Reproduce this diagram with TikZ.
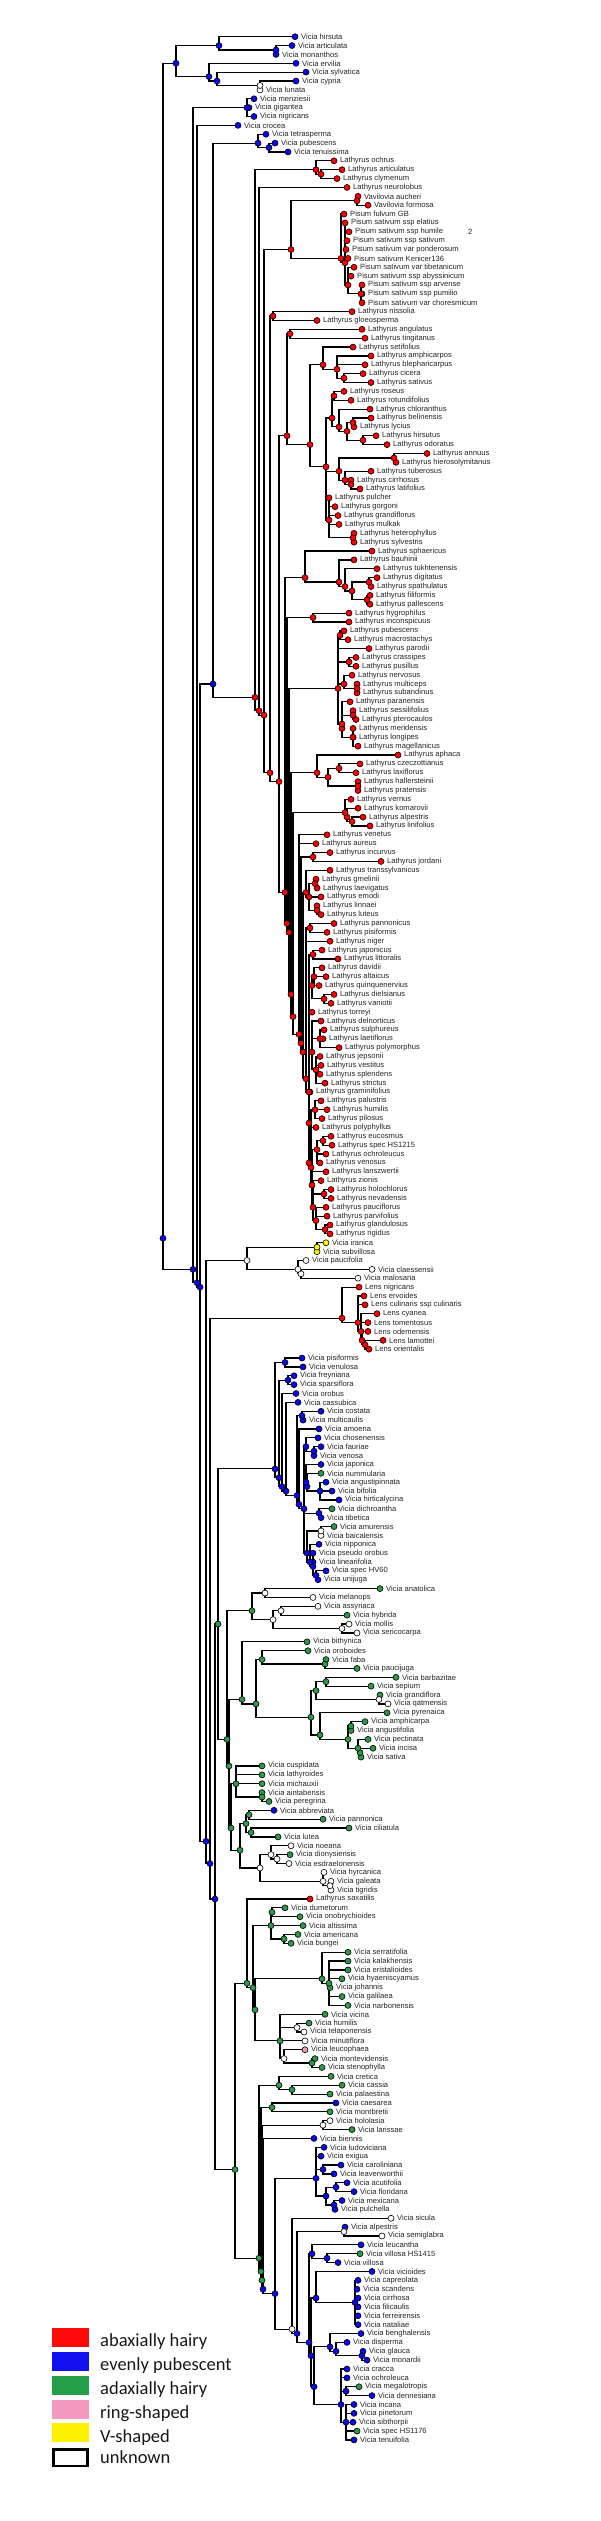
\documentclass[tikz,border=0pt]{standalone}
\usepackage{fontspec}
\setmainfont{Liberation Sans}
\newfontfamily\legfont{Carlito}
\pgfdeclarelayer{bg}
\pgfsetlayers{bg,main}
\definecolor{cR}{HTML}{FF0000}
\definecolor{cB}{HTML}{0A0AF0}
\definecolor{cG}{HTML}{2A9A48}
\definecolor{cW}{HTML}{FFFFFF}
\definecolor{cY}{HTML}{FFFF00}
\definecolor{cP}{HTML}{F49AC1}
\definecolor{lR}{HTML}{FF0A0A}
\definecolor{lB}{HTML}{1010F0}
\definecolor{lG}{HTML}{26A048}
\definecolor{lP}{HTML}{F49AC1}
\definecolor{lY}{HTML}{FFF200}
\tikzset{
  dot/.style={circle,draw=black,line width=0.6pt,minimum size=6pt,inner sep=0pt},
  lab/.style={anchor=west,inner sep=0pt,font=\fontsize{7.6}{8}\selectfont,text=black!85},
  edge/.style={line width=1.2pt,black},
  legbox/.style={minimum width=36.7pt,minimum height=19pt,inner sep=0pt,draw=none},
  legtxt/.style={anchor=base west,inner sep=0pt,font=\legfont\fontsize{18.5}{20}\selectfont,text=black!90}
}
\newcommand\tp[5]{%
  \expandafter\xdef\csname S-#1\endcsname{#2}%
  \expandafter\xdef\csname C-#1\endcsname{1}%
  \edef\yy{\fpeval{-(36.7+(#2-1)*8.868)}}%
  \node[dot,fill=#4] (#1) at (#3,\yy) {};%
  \node[lab] (#1-l) at ([xshift=2.7pt]#1.east) {#5};%
}
\newcommand\nd[4]{%
  \gdef\accS{0}\gdef\accC{0}%
  \foreach \kid in {#4}{%
    \xdef\accS{\fpeval{\accS+\csname S-\kid\endcsname}}%
    \xdef\accC{\fpeval{\accC+\csname C-\kid\endcsname}}%
  }%
  \expandafter\xdef\csname S-#1\endcsname{\accS}%
  \expandafter\xdef\csname C-#1\endcsname{\accC}%
  \edef\yy{\fpeval{-(36.7+(\accS/\accC-1)*8.868)}}%
  \node[dot,fill=#3] (#1) at (#2,\yy) {};%
  \begin{pgfonlayer}{bg}%
  \foreach \kid in {#4}{\draw[edge] (#1.center) |- (\kid.center);}%
  \end{pgfonlayer}%
}
\begin{document}
\begin{tikzpicture}[x=1pt,y=1pt]
\begin{pgfonlayer}{bg}
\fill[white] (0,0) rectangle (600,-2521);
\end{pgfonlayer}
\useasboundingbox (0,0) rectangle (600,-2521);
% ---------------- tips
\tp{t1}{1}{295}{cB}{Vicia hirsuta}
\tp{t2}{2}{292}{cB}{Vicia articulata}
\tp{t3}{3}{276}{cB}{Vicia monanthos}
\tp{t4}{4}{296}{cB}{Vicia ervilia}
\tp{t5}{5}{306}{cB}{Vicia sylvatica}
\tp{t6}{6}{296}{cB}{Vicia cypria}
\tp{t7}{7}{260}{cW}{Vicia lunata}
\tp{t8}{8}{254}{cB}{Vicia menziesii}
\tp{t9}{9}{249}{cB}{Vicia gigantea}
\tp{t10}{10}{254}{cB}{Vicia nigricans}
\tp{t11}{11}{238}{cB}{Vicia crocea}
\tp{t12}{12}{266}{cB}{Vicia tetrasperma}
\tp{t13}{13}{275}{cB}{Vicia pubescens}
\tp{t14}{14}{288}{cB}{Vicia tenuissima}
\tp{t15}{15}{334}{cR}{Lathyrus ochrus}
\tp{t16}{16}{342}{cR}{Lathyrus articulatus}
\tp{t17}{17}{337}{cR}{Lathyrus clymenum}
\tp{t18}{18}{347}{cR}{Lathyrus neurolobus}
\tp{t19}{19}{358}{cR}{Vavilovia aucheri}
\tp{t20}{20}{368}{cR}{Vavilovia formosa}
\tp{t21}{21}{344}{cR}{Pisum fulvum GB}
\tp{t22}{22}{345}{cR}{Pisum sativum ssp elatius}
\tp{t23}{23}{349}{cR}{Pisum sativum ssp humile}
\tp{t24}{24}{347}{cR}{Pisum sativum ssp sativum}
\tp{t25}{25}{346}{cR}{Pisum sativum var ponderosum}
\tp{t26}{26}{348}{cR}{Pisum sativum Kenicer136}
\tp{t27}{27}{354}{cR}{Pisum sativum var tibetanicum}
\tp{t28}{28}{351}{cR}{Pisum sativum ssp abyssinicum}
\tp{t29}{29}{362}{cR}{Pisum sativum ssp arvense}
\tp{t30}{30}{362}{cR}{Pisum sativum ssp pumilio}
\tp{t31}{31}{362}{cR}{Pisum sativum var choresmicum}
\tp{t32}{32}{352}{cR}{Lathyrus nissolia}
\tp{t33}{33}{317}{cR}{Lathyrus gloeosperma}
\tp{t34}{34}{362}{cR}{Lathyrus angulatus}
\tp{t35}{35}{365}{cR}{Lathyrus tingitanus}
\tp{t36}{36}{353}{cR}{Lathyrus setifolius}
\tp{t37}{37}{371}{cR}{Lathyrus amphicarpos}
\tp{t38}{38}{365}{cR}{Lathyrus blepharicarpus}
\tp{t39}{39}{363}{cR}{Lathyrus cicera}
\tp{t40}{40}{371}{cR}{Lathyrus sativus}
\tp{t41}{41}{344}{cR}{Lathyrus roseus}
\tp{t42}{42}{351}{cR}{Lathyrus rotundifolius}
\tp{t43}{43}{370}{cR}{Lathyrus chloranthus}
\tp{t44}{44}{371}{cR}{Lathyrus belinensis}
\tp{t45}{45}{354}{cR}{Lathyrus lycius}
\tp{t46}{46}{376}{cR}{Lathyrus hirsutus}
\tp{t47}{47}{387}{cR}{Lathyrus odoratus}
\tp{t48}{48}{427}{cR}{Lathyrus annuus}
\tp{t49}{49}{396}{cR}{Lathyrus hierosolymitanus}
\tp{t50}{50}{371}{cR}{Lathyrus tuberosus}
\tp{t51}{51}{351}{cR}{Lathyrus cirrhosus}
\tp{t52}{52}{360}{cR}{Lathyrus latifolius}
\tp{t53}{53}{329}{cR}{Lathyrus pulcher}
\tp{t54}{54}{335}{cR}{Lathyrus gorgoni}
\tp{t55}{55}{338}{cR}{Lathyrus grandiflorus}
\tp{t56}{56}{339}{cR}{Lathyrus mulkak}
\tp{t57}{57}{354}{cR}{Lathyrus heterophyllus}
\tp{t58}{58}{354}{cR}{Lathyrus sylvestris}
\tp{t59}{59}{372}{cR}{Lathyrus sphaericus}
\tp{t60}{60}{354}{cR}{Lathyrus bauhinii}
\tp{t61}{61}{377}{cR}{Lathyrus tukhtenensis}
\tp{t62}{62}{377}{cR}{Lathyrus digitatus}
\tp{t63}{63}{371}{cR}{Lathyrus spathulatus}
\tp{t64}{64}{370}{cR}{Lathyrus filiformis}
\tp{t65}{65}{370}{cR}{Lathyrus pallescens}
\tp{t66}{66}{349}{cR}{Lathyrus hygrophilus}
\tp{t67}{67}{349}{cR}{Lathyrus inconspicuus}
\tp{t68}{68}{344}{cR}{Lathyrus pubescens}
\tp{t69}{69}{348}{cR}{Lathyrus macrostachys}
\tp{t70}{70}{369}{cR}{Lathyrus parodii}
\tp{t71}{71}{356}{cR}{Lathyrus crassipes}
\tp{t72}{72}{356}{cR}{Lathyrus pusillus}
\tp{t73}{73}{352}{cR}{Lathyrus nervosus}
\tp{t74}{74}{357}{cR}{Lathyrus multiceps}
\tp{t75}{75}{357}{cR}{Lathyrus subandinus}
\tp{t76}{76}{350}{cR}{Lathyrus paranensis}
\tp{t77}{77}{353}{cR}{Lathyrus sessilifolius}
\tp{t78}{78}{356}{cR}{Lathyrus pterocaulos}
\tp{t79}{79}{353}{cR}{Lathyrus meridensis}
\tp{t80}{80}{353}{cR}{Lathyrus longipes}
\tp{t81}{81}{358}{cR}{Lathyrus magellanicus}
\tp{t82}{82}{398}{cR}{Lathyrus aphaca}
\tp{t83}{83}{360}{cR}{Lathyrus czeczottianus}
\tp{t84}{84}{356}{cR}{Lathyrus laxiflorus}
\tp{t85}{85}{358}{cR}{Lathyrus hallersteinii}
\tp{t86}{86}{358}{cR}{Lathyrus pratensis}
\tp{t87}{87}{351}{cR}{Lathyrus vernus}
\tp{t88}{88}{358}{cR}{Lathyrus komarovii}
\tp{t89}{89}{363}{cR}{Lathyrus alpestris}
\tp{t90}{90}{370}{cR}{Lathyrus linifolius}
\tp{t91}{91}{327}{cR}{Lathyrus venetus}
\tp{t92}{92}{316}{cR}{Lathyrus aureus}
\tp{t93}{93}{330}{cR}{Lathyrus incurvus}
\tp{t94}{94}{381}{cR}{Lathyrus jordani}
\tp{t95}{95}{330}{cR}{Lathyrus transsylvanicus}
\tp{t96}{96}{316}{cR}{Lathyrus gmelinii}
\tp{t97}{97}{317}{cR}{Lathyrus laevigatus}
\tp{t98}{98}{321}{cR}{Lathyrus emodi}
\tp{t99}{99}{317}{cR}{Lathyrus linnaei}
\tp{t100}{100}{321}{cR}{Lathyrus luteus}
\tp{t101}{101}{334}{cR}{Lathyrus pannonicus}
\tp{t102}{102}{327}{cR}{Lathyrus pisiformis}
\tp{t103}{103}{330}{cR}{Lathyrus niger}
\tp{t104}{104}{322}{cR}{Lathyrus japonicus}
\tp{t105}{105}{338}{cR}{Lathyrus littoralis}
\tp{t106}{106}{322}{cR}{Lathyrus davidii}
\tp{t107}{107}{326}{cR}{Lathyrus altaicus}
\tp{t108}{108}{319}{cR}{Lathyrus quinquenervius}
\tp{t109}{109}{334}{cR}{Lathyrus dielsianus}
\tp{t110}{110}{331}{cR}{Lathyrus vaniotii}
\tp{t111}{111}{312}{cR}{Lathyrus torreyi}
\tp{t112}{112}{321}{cR}{Lathyrus delnorticus}
\tp{t113}{113}{324}{cR}{Lathyrus sulphureus}
\tp{t114}{114}{323}{cR}{Lathyrus laetiflorus}
\tp{t115}{115}{339}{cR}{Lathyrus polymorphus}
\tp{t116}{116}{320}{cR}{Lathyrus jepsonii}
\tp{t117}{117}{321}{cR}{Lathyrus vestitus}
\tp{t118}{118}{320}{cR}{Lathyrus splendens}
\tp{t119}{119}{325}{cR}{Lathyrus strictus}
\tp{t120}{120}{310}{cR}{Lathyrus graminifolius}
\tp{t121}{121}{321}{cR}{Lathyrus palustris}
\tp{t122}{122}{327}{cR}{Lathyrus humilis}
\tp{t123}{123}{322}{cR}{Lathyrus pilosus}
\tp{t124}{124}{316}{cR}{Lathyrus polyphyllus}
\tp{t125}{125}{331}{cR}{Lathyrus eucosmus}
\tp{t126}{126}{332}{cR}{Lathyrus spec HS1215}
\tp{t127}{127}{326}{cR}{Lathyrus ochroleucus}
\tp{t128}{128}{320}{cR}{Lathyrus venosus}
\tp{t129}{129}{326}{cR}{Lathyrus lanszwertii}
\tp{t130}{130}{321}{cR}{Lathyrus zionis}
\tp{t131}{131}{331}{cR}{Lathyrus holochlorus}
\tp{t132}{132}{331}{cR}{Lathyrus nevadensis}
\tp{t133}{133}{326}{cR}{Lathyrus pauciflorus}
\tp{t134}{134}{327}{cR}{Lathyrus parvifolius}
\tp{t135}{135}{330}{cR}{Lathyrus glandulosus}
\tp{t136}{136}{330}{cR}{Lathyrus rigidus}
\tp{t137}{137}{326}{cY}{Vicia iranica}
\tp{t138}{138}{317}{cY}{Vicia subvillosa}
\tp{t139}{139}{306}{cW}{Vicia paucifolia}
\tp{t140}{140}{372}{cW}{Vicia claessensii}
\tp{t141}{141}{358}{cW}{Vicia malosana}
\tp{t142}{142}{359}{cR}{Lens nigricans}
\tp{t143}{143}{364}{cR}{Lens ervoides}
\tp{t144}{144}{365}{cR}{Lens culinaris ssp culinaris}
\tp{t145}{145}{377}{cR}{Lens cyanea}
\tp{t146}{146}{368}{cR}{Lens tomentosus}
\tp{t147}{147}{368}{cR}{Lens odemensis}
\tp{t148}{148}{383}{cR}{Lens lamottei}
\tp{t149}{149}{369}{cR}{Lens orientalis}
\tp{t150}{150}{302}{cB}{Vicia pisiformis}
\tp{t151}{151}{303}{cB}{Vicia venulosa}
\tp{t152}{152}{294}{cB}{Vicia freyniana}
\tp{t153}{153}{294}{cB}{Vicia sparsiflora}
\tp{t154}{154}{296}{cB}{Vicia orobus}
\tp{t155}{155}{298}{cB}{Vicia cassubica}
\tp{t156}{156}{321}{cB}{Vicia costata}
\tp{t157}{157}{303}{cB}{Vicia multicaulis}
\tp{t158}{158}{319}{cB}{Vicia amoena}
\tp{t159}{159}{318}{cB}{Vicia chosenensis}
\tp{t160}{160}{321}{cB}{Vicia fauriae}
\tp{t161}{161}{314}{cB}{Vicia venosa}
\tp{t162}{162}{321}{cB}{Vicia japonica}
\tp{t163}{163}{321}{cG}{Vicia nummularia}
\tp{t164}{164}{326}{cB}{Vicia angustipinnata}
\tp{t165}{165}{332}{cB}{Vicia bifolia}
\tp{t166}{166}{339}{cB}{Vicia hirticalycina}
\tp{t167}{167}{332}{cG}{Vicia dichroantha}
\tp{t168}{168}{321}{cB}{Vicia tibetica}
\tp{t169}{169}{334}{cG}{Vicia amurensis}
\tp{t170}{170}{321}{cW}{Vicia baicalensis}
\tp{t171}{171}{319}{cB}{Vicia nipponica}
\tp{t172}{172}{313}{cB}{Vicia pseudo orobus}
\tp{t173}{173}{313}{cB}{Vicia linearifolia}
\tp{t174}{174}{326}{cB}{Vicia spec HV60}
\tp{t175}{175}{318}{cB}{Vicia unijuga}
\tp{t176}{176}{380}{cG}{Vicia anatolica}
\tp{t177}{177}{313}{cW}{Vicia melanops}
\tp{t178}{178}{318}{cW}{Vicia assyriaca}
\tp{t179}{179}{347}{cG}{Vicia hybrida}
\tp{t180}{180}{349}{cW}{Vicia mollis}
\tp{t181}{181}{357}{cW}{Vicia sericocarpa}
\tp{t182}{182}{307}{cG}{Vicia bithynica}
\tp{t183}{183}{308}{cG}{Vicia oroboides}
\tp{t184}{184}{326}{cG}{Vicia faba}
\tp{t185}{185}{357}{cG}{Vicia paucijuga}
\tp{t186}{186}{396}{cG}{Vicia barbazitae}
\tp{t187}{187}{371}{cG}{Vicia sepium}
\tp{t188}{188}{380}{cG}{Vicia grandiflora}
\tp{t189}{189}{388}{cW}{Vicia qatmensis}
\tp{t190}{190}{387}{cG}{Vicia pyrenaica}
\tp{t191}{191}{365}{cG}{Vicia amphicarpa}
\tp{t192}{192}{351}{cG}{Vicia angustifolia}
\tp{t193}{193}{368}{cG}{Vicia pectinata}
\tp{t194}{194}{373}{cG}{Vicia incisa}
\tp{t195}{195}{361}{cG}{Vicia sativa}
\tp{t196}{196}{262}{cG}{Vicia cuspidata}
\tp{t197}{197}{262}{cG}{Vicia lathyroides}
\tp{t198}{198}{262}{cG}{Vicia michauxii}
\tp{t199}{199}{262}{cG}{Vicia aintabensis}
\tp{t200}{200}{269}{cG}{Vicia peregrina}
\tp{t201}{201}{274}{cB}{Vicia abbreviata}
\tp{t202}{202}{323}{cG}{Vicia pannonica}
\tp{t203}{203}{349}{cG}{Vicia ciliatula}
\tp{t204}{204}{278}{cG}{Vicia lutea}
\tp{t205}{205}{291}{cW}{Vicia noeana}
\tp{t206}{206}{290}{cG}{Vicia dionysiensis}
\tp{t207}{207}{289}{cW}{Vicia esdraelonensis}
\tp{t208}{208}{324}{cW}{Vicia hyrcanica}
\tp{t209}{209}{331}{cW}{Vicia galeata}
\tp{t210}{210}{331}{cW}{Vicia tigridis}
\tp{t211}{211}{310}{cR}{Lathyrus saxatilis}
\tp{t212}{212}{285}{cG}{Vicia dumetorum}
\tp{t213}{213}{300}{cG}{Vicia onobrychioides}
\tp{t214}{214}{303}{cG}{Vicia altissima}
\tp{t215}{215}{298}{cG}{Vicia americana}
\tp{t216}{216}{291}{cG}{Vicia bungei}
\tp{t217}{217}{348}{cG}{Vicia serratifolia}
\tp{t218}{218}{348}{cG}{Vicia kalakhensis}
\tp{t219}{219}{348}{cG}{Vicia eristalioides}
\tp{t220}{220}{342}{cG}{Vicia hyaeniscyamus}
\tp{t221}{221}{330}{cG}{Vicia johannis}
\tp{t222}{222}{342}{cG}{Vicia galilaea}
\tp{t223}{223}{348}{cG}{Vicia narbonensis}
\tp{t224}{224}{325}{cG}{Vicia vicina}
\tp{t225}{225}{309}{cG}{Vicia humilis}
\tp{t226}{226}{304}{cW}{Vicia telaponensis}
\tp{t227}{227}{305}{cW}{Vicia minutiflora}
\tp{t228}{228}{305}{cP}{Vicia leucophaea}
\tp{t229}{229}{315}{cG}{Vicia montevidensis}
\tp{t230}{230}{322}{cG}{Vicia stenophylla}
\tp{t231}{231}{331}{cG}{Vicia cretica}
\tp{t232}{232}{342}{cG}{Vicia cassia}
\tp{t233}{233}{330}{cG}{Vicia palaestina}
\tp{t234}{234}{336}{cB}{Vicia caesarea}
\tp{t235}{235}{330}{cG}{Vicia montbretii}
\tp{t236}{236}{330}{cW}{Vicia hololasia}
\tp{t237}{237}{352}{cG}{Vicia larissae}
\tp{t238}{238}{314}{cB}{Vicia biennis}
\tp{t239}{239}{324}{cB}{Vicia ludoviciana}
\tp{t240}{240}{321}{cB}{Vicia exigua}
\tp{t241}{241}{341}{cB}{Vicia caroliniana}
\tp{t242}{242}{334}{cB}{Vicia leavenworthii}
\tp{t243}{243}{347}{cB}{Vicia acutifolia}
\tp{t244}{244}{354}{cB}{Vicia floridana}
\tp{t245}{245}{342}{cB}{Vicia mexicana}
\tp{t246}{246}{335}{cB}{Vicia pulchella}
\tp{t247}{247}{391}{cW}{Vicia sicula}
\tp{t248}{248}{345}{cB}{Vicia alpestris}
\tp{t249}{249}{382}{cW}{Vicia semiglabra}
\tp{t250}{250}{361}{cB}{Vicia leucantha}
\tp{t251}{251}{360}{cG}{Vicia villosa HS1415}
\tp{t252}{252}{338}{cB}{Vicia villosa}
\tp{t253}{253}{372}{cB}{Vicia vicioides}
\tp{t254}{254}{358}{cB}{Vicia capreolata}
\tp{t255}{255}{357}{cB}{Vicia scandens}
\tp{t256}{256}{358}{cB}{Vicia cirrhosa}
\tp{t257}{257}{358}{cB}{Vicia filicaulis}
\tp{t258}{258}{358}{cB}{Vicia ferreirensis}
\tp{t259}{259}{358}{cB}{Vicia nataliae}
\tp{t260}{260}{361}{cB}{Vicia benghalensis}
\tp{t261}{261}{347}{cB}{Vicia disperma}
\tp{t262}{262}{363}{cB}{Vicia glauca}
\tp{t263}{263}{367}{cB}{Vicia monardii}
\tp{t264}{264}{347}{cB}{Vicia cracca}
\tp{t265}{265}{347}{cB}{Vicia ochroleuca}
\tp{t266}{266}{359}{cG}{Vicia megalotropis}
\tp{t267}{267}{372}{cB}{Vicia dennesiana}
\tp{t268}{268}{354}{cB}{Vicia incana}
\tp{t269}{269}{354}{cB}{Vicia pinetorum}
\tp{t270}{270}{353}{cB}{Vicia sibthorpii}
\tp{t271}{271}{357}{cG}{Vicia spec HS1176}
\tp{t272}{272}{354}{cB}{Vicia tenuifolia}
\node[lab] (two) at (468,-232.3) {2};
% ---------------- internal nodes: top Vicia
\nd{A4}{260}{cW}{t6,t7}
\nd{A3}{217}{cB}{t5,A4}
\nd{A2}{209}{cB}{t4,A3}
\nd{A1b}{276}{cB}{t2,t3}
\nd{A1}{219}{cB}{t1,A1b}
\nd{A}{176}{cB}{A1,A2}
\nd{Gig}{247}{cB}{t8,t9,t10}
\nd{T2}{269}{cB}{t13,t14}
\nd{T}{258}{cB}{t12,T2}
% ---------------- Lathyrus / Pisum
\nd{LO2}{321}{cR}{t16,t17}
\nd{LO}{316}{cR}{t15,LO2}
\nd{VV}{357}{cR}{t19,t20}
\nd{PI4}{361}{cR}{t29,t30,t31}
\nd{PI3}{348}{cR}{t27,t28,PI4}
\nd{PI2}{345}{cR}{t22,t23,t24,t25,t26,PI3}
\nd{PI}{341}{cR}{t21,PI2}
\nd{PS}{291}{cR}{VV,PI}
\nd{NG}{273}{cR}{t32,t33}
\nd{AT}{290}{cR}{t34,t35}
\nd{LC3}{344}{cR}{t39,t40}
\nd{LC2}{337}{cR}{t37,t38,LC3}
\nd{LC}{323}{cR}{t36,LC2}
\nd{LD1}{334}{cR}{t41,t42}
\nd{LD3a}{353}{cR}{t44,t45}
\nd{LD4}{363}{cR}{t46,t47}
\nd{LD3}{347}{cR}{LD3a,LD4}
\nd{LD2}{339}{cR}{t43,LD3}
\nd{LD}{332}{cR}{LD1,LD2}
\nd{LF1}{394}{cR}{t48,t49}
\nd{LF3}{351}{cR}{t51,t52}
\nd{LF2}{345}{cR}{t50,LF3}
\nd{LF}{339}{cR}{LF1,LF2}
\nd{LG2}{353}{cR}{t57,t58}
\nd{LG}{329}{cR}{t53,t54,t55,t56,LG2}
\nd{LB3}{326}{cR}{LD,LF,LG}
\nd{LB2}{310}{cR}{LC,LB3}
\nd{LB}{287}{cR}{AT,LB2}
\nd{LH6}{367}{cR}{t64,t65}
\nd{LH5}{369}{cR}{t62,t63}
\nd{LH4}{352}{cR}{LH5,LH6}
\nd{LH3}{345}{cR}{t61,LH4}
\nd{LH2}{339}{cR}{t60,LH3}
\nd{LH}{305}{cR}{t59,LH2}
\nd{LI}{313}{cR}{t66,t67}
\nd{LJ1}{340}{cR}{t68,t69}
\nd{LJ2}{349}{cR}{t71,t72}
\nd{LJ3b}{357}{cR}{t74,t75}
\nd{LJ3}{344}{cR}{t73,LJ3b}
\nd{LJ6}{353}{cR}{t77,t78}
\nd{LJ7}{353}{cR}{t79,t80,t81}
\nd{LJ5}{342}{cR}{LJ6,LJ7}
\nd{LJ4}{342}{cR}{t76,LJ5}
\nd{LJ}{338}{cR}{LJ1,t70,LJ2,LJ3,LJ4}
\nd{LK3}{339}{cR}{t83,t84}
\nd{LK4}{358}{cR}{t85,t86}
\nd{LK2}{328}{cR}{LK3,LK4}
\nd{LK}{317}{cR}{t82,LK2}
\nd{LL3}{352}{cR}{t89,t90}
\nd{LL2}{347}{cR}{t88,LL3}
\nd{LL}{345}{cR}{t87,LL2}
\nd{LM1}{313}{cR}{t93,t94}
\nd{LM4}{315}{cR}{t96,t97}
\nd{LM5}{317}{cR}{t99,t100}
\nd{LM3}{309}{cR}{LM4,t98,LM5}
\nd{LM2}{306}{cR}{t95,LM3}
\nd{LPp}{310}{cR}{t101,t102}
\nd{LJp}{313}{cR}{t104,t105}
\nd{LDv2}{324}{cR}{t109,t110}
\nd{LDv1}{314}{cR}{t106,t107,t108}
\nd{LDv}{312}{cR}{LDv1,LDv2}
\nd{LDn2}{320}{cR}{t113,t114,t115}
\nd{LDn3}{316}{cR}{t116,t117,t118,t119}
\nd{LDn}{312}{cR}{t112,LDn2,LDn3}
\nd{LPa}{315}{cR}{t121,t122,t123}
\nd{LEu1}{323}{cR}{t125,t126}
\nd{LEu}{317}{cR}{LEu1,t127,t128}
\nd{LHo}{324}{cR}{t131,t132}
\nd{LGl}{325}{cR}{t135,t136}
\nd{LA21}{316}{cR}{t133,t134,LGl}
\nd{LA20}{313}{cR}{t130,LHo,LA21}
\nd{LA19}{312}{cR}{LEu,t129,LA20}
\nd{LA18}{311}{cR}{LPa,t124,LA19}
\nd{LA17}{309}{cR}{t120,LA18}
\nd{LA16}{309}{cR}{t111,LDn,LA17}
\nd{LA15}{309}{cR}{LJp,LDv,LA16}
\nd{LA14}{306}{cR}{LPp,t103,LA15}
\nd{LA13}{303}{cR}{LM2,LA14}
\nd{LA12}{301}{cR}{LM1,LA13}
\nd{LA11}{299}{cR}{t91,t92,LA12}
\nd{LA10}{293}{cR}{LL,LA11}
\nd{LA9}{291}{cR}{LK,LA10}
\nd{LA8}{289}{cR}{LJ,LA9}
\nd{LA7}{287}{cR}{LI,LA8}
\nd{LA6}{285}{cR}{LH,LA7}
\nd{LA5}{279}{cR}{LB,LA6}
\nd{LA4}{270}{cR}{NG,LA5}
\nd{LA3}{264}{cR}{PS,LA4}
\nd{LA2}{259}{cR}{t18,LA3}
\nd{LA}{255}{cR}{LO,LA2}
\nd{C}{213}{cB}{T,LA}
% ---------------- lower Vicia
\nd{E1}{317}{cY}{t137,t138}
\nd{E3}{301}{cW}{t140,t141}
\nd{E2}{298}{cW}{t139,E3}
\nd{E}{247}{cW}{E1,E2}
\nd{LN5}{365}{cR}{t148,t149}
\nd{LN4}{362}{cR}{t147,LN5}
\nd{LN3}{361}{cR}{t145,t146,LN4}
\nd{LN2}{358}{cR}{t143,t144,LN3}
\nd{LN}{342}{cR}{t142,LN2}
\nd{Q1}{285}{cB}{t150,t151}
\nd{Q2}{288}{cB}{t152,t153}
\nd{Q3}{302}{cB}{t156,t157}
\nd{Q4b}{314}{cB}{t160,t161}
\nd{Q4}{306}{cB}{t159,Q4b}
\nd{Q5b}{320}{cB}{t164,t165,t166}
\nd{Q5a}{307}{cB}{t163,Q5b}
\nd{Q5}{306}{cB}{t162,Q5a}
\nd{Q6}{319}{cB}{t167,t168}
\nd{Q7}{321}{cW}{t169,t170}
\nd{F10b}{316}{cB}{t174,t175}
\nd{F10}{313}{cB}{t172,t173,F10b}
\nd{F9}{310}{cB}{t171,F10}
\nd{F8}{307}{cB}{Q7,F9}
\nd{F7}{304}{cB}{Q4,Q5,Q6,F8}
\nd{F6}{299}{cB}{t158,F7}
\nd{F5}{297}{cB}{Q3,F6}
\nd{F4}{286}{cB}{t155,F5}
\nd{F3}{282}{cB}{t154,F4}
\nd{F2}{279}{cB}{Q2,F3}
\nd{F}{275}{cB}{Q1,F2}
\nd{H1}{265}{cW}{t176,t177}
\nd{H2a}{281}{cW}{t178,t179}
\nd{H2b}{342}{cW}{t180,t181}
\nd{H2}{273}{cW}{H2a,H2b}
\nd{H}{252}{cG}{H1,H2}
\nd{K2}{325}{cG}{t184,t185}
\nd{K}{262}{cG}{t183,K2}
\nd{L1a}{326}{cG}{t186,t187}
\nd{L1b}{379}{cW}{t188,t189}
\nd{L1}{316}{cG}{L1a,L1b}
\nd{L3a}{351}{cG}{t191,t192}
\nd{L3c}{360}{cG}{t194,t195}
\nd{L3b}{358}{cG}{t193,L3c}
\nd{L3}{348}{cG}{L3a,L3b}
\nd{L2}{320}{cG}{t190,L3}
\nd{L}{311}{cG}{L1,L2}
\nd{J}{256}{cG}{K,L}
\nd{I}{242}{cG}{t182,J}
\nd{N2}{262}{cG}{t199,t200}
\nd{N}{236}{cG}{t196,t197,t198,N2}
\nd{O1}{249}{cG}{t201,t202}
\nd{O2}{251}{cG}{t203,t204}
\nd{O}{246}{cG}{O1,O2}
\nd{P1b}{277}{cW}{t206,t207}
\nd{P1}{271}{cW}{t205,P1b}
\nd{P2b}{330}{cW}{t209,t210}
\nd{P2}{323}{cW}{t208,P2b}
\nd{P}{260}{cW}{P1,P2}
\nd{M}{240}{cG}{O,P}
\nd{G3}{231}{cG}{N,M}
\nd{G2}{229}{cG}{I,G3}
\nd{G}{227}{cG}{H,G2}
\nd{X}{218}{cG}{F,G}
\nd{Y1c1}{272}{cG}{t212,t213}
\nd{Y1c2}{284}{cG}{t215,t216}
\nd{Y1c}{271}{cG}{Y1c1,t214,Y1c2}
\nd{Y1d2}{329}{cG}{t218,t219,t220,t221,t222,t223}
\nd{Y1d}{322}{cG}{t217,Y1d2}
\nd{Y1g1}{297}{cW}{t225,t226}
\nd{Y1g4}{312}{cG}{t229,t230}
\nd{Y1g2}{284}{cW}{t228,Y1g4}
\nd{Y1g}{280}{cG}{t224,Y1g1,t227,Y1g2}
\nd{Y1f}{255}{cG}{Y1d,Y1g}
\nd{Y1b}{253}{cG}{Y1c,Y1f}
\nd{Y1}{247}{cG}{t211,Y1b}
\nd{Y2a2}{292}{cG}{t232,t233}
\nd{Y2a}{279}{cG}{t231,Y2a2}
\nd{Y2b}{272}{cG}{t234,t235}
\nd{Y2c}{323}{cW}{t236,t237}
\nd{Y7b}{323}{cB}{t241,t242}
\nd{Y7d}{336}{cB}{t243,t244}
\nd{Y7e}{334}{cB}{t245,t246}
\nd{Y7c}{326}{cB}{Y7d,Y7e}
\nd{Y7}{316}{cB}{t239,t240,Y7b,Y7c}
\nd{Y9a}{344}{cW}{t248,t249}
\nd{Y10a2}{327}{cB}{t251,t252}
\nd{Y10a}{312}{cB}{t250,Y10a2}
\nd{Y11a2}{355}{cB}{t254,t255,t256,t257,t258,t259}
\nd{Y11a}{316}{cB}{t253,Y11a2}
\nd{Y11b3}{362}{cB}{t262,t263}
\nd{Y11b2}{336}{cB}{t261,Y11b3}
\nd{Y11b}{330}{cB}{t260,Y11b2}
\nd{Y13b}{346}{cB}{t266,t267}
\nd{Y13c}{346}{cB}{t268,t269,t270,t271,t272}
\nd{Y13}{341}{cB}{t264,t265,Y13b,Y13c}
\nd{Y12}{314}{cB}{Y11b,Y13}
\nd{Y11}{311}{cB}{Y11a,Y12}
\nd{Y10}{309}{cB}{Y10a,Y11}
\nd{Y9}{297}{cB}{Y9a,Y10}
\nd{Y8}{292}{cW}{t247,Y9}
\nd{Y6}{275}{cB}{Y7,Y8}
\nd{Y5}{263}{cB}{t238,Y6}
\nd{Y4}{262}{cG}{Y2c,Y5}
\nd{Y3}{261}{cG}{Y2b,Y4}
\nd{Y2}{259}{cG}{Y2a,Y3}
\nd{Y}{235}{cG}{Y1,Y2}
\nd{D3}{215}{cB}{X,Y}
\nd{D2}{210}{cB}{LN,D3}
\nd{D}{206}{cB}{E,D2}
\nd{B3}{200}{cB}{C,D}
\nd{B2}{197}{cB}{t11,B3}
\nd{B}{193}{cB}{Gig,B2}
\nd{R}{163}{cB}{A,B}
% ---------------- legend
\node[legbox,fill=lR] (k1) at (70.7,-2337.2) {};
\node[legbox,fill=lB] (k2) at (70.7,-2361.0) {};
\node[legbox,fill=lG] (k3) at (70.7,-2385.0) {};
\node[legbox,fill=lP] (k4) at (70.7,-2409.0) {};
\node[legbox,fill=lY] (k5) at (70.7,-2432.7) {};
\node[legbox,fill=white,draw=black,line width=2.7pt,minimum width=34pt,minimum height=16.3pt] (k6) at (70.7,-2457.8) {};
\node[legtxt] (k1t) at (100,-2346.7) {abaxially hairy};
\node[legtxt] (k2t) at (100,-2370.3) {evenly pubescent};
\node[legtxt] (k3t) at (100,-2394.3) {adaxially hairy};
\node[legtxt] (k4t) at (100,-2418.3) {ring-shaped};
\node[legtxt] (k5t) at (100,-2442.0) {V-shaped};
\node[legtxt] (k6t) at (100,-2463.5) {unknown};
\end{tikzpicture}
\end{document}
